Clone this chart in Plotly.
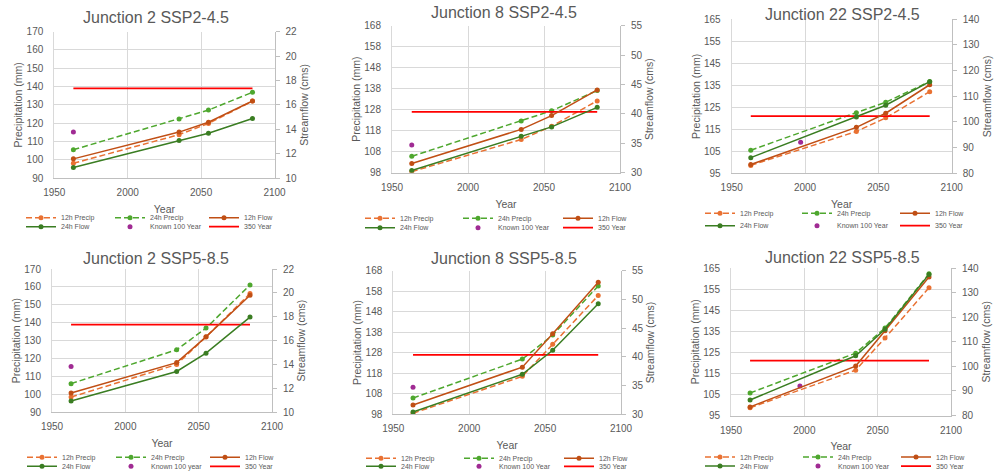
import plotly.graph_objects as go

# ---------------- data ----------------
years = [1963, 2035, 2055, 2085]
line_years = [1963, 2085]

titles = ["Junction 2 SSP2-4.5", "Junction 8 SSP2-4.5", "Junction 22 SSP2-4.5",
          "Junction 2 SSP5-8.5", "Junction 8 SSP5-8.5", "Junction 22 SSP5-8.5"]

# Junction 2 SSP2-4.5
j2_245_precip12 = [98.2, 113.8, 119.9, 132.1]
j2_245_precip24 = [105.6, 122.4, 127.2, 136.9]
j2_245_flow12 = [11.59, 13.78, 14.59, 16.32]
j2_245_flow24 = [10.89, 13.09, 13.68, 14.89]
# Junction 8 SSP2-4.5
j8_245_precip12 = [98.5, 113.8, 120.1, 132.2]
j8_245_precip24 = [105.8, 122.6, 127.5, 137.1]
j8_245_flow12 = [31.57, 37.36, 39.71, 44.07]
j8_245_flow24 = [30.39, 36.21, 37.79, 41.11]
# Junction 22 SSP2-4.5
j22_245_precip12 = [98.6, 114.0, 120.2, 132.1]
j22_245_precip24 = [105.5, 122.5, 127.3, 136.7]
j22_245_flow12 = [83.4, 97.9, 103.4, 114.5]
j22_245_flow24 = [86.1, 101.9, 106.5, 115.7]
# Junction 2 SSP5-8.5
j2_585_precip12 = [98.5, 116.7, 132.1, 156.3]
j2_585_precip24 = [106.0, 124.9, 137.0, 161.1]
j2_585_flow12 = [11.62, 14.16, 16.32, 19.80]
j2_585_flow24 = [10.95, 13.42, 14.95, 17.97]
# Junction 8 SSP5-8.5
j8_585_precip12 = [98.5, 116.5, 132.1, 155.9]
j8_585_precip24 = [105.9, 124.9, 136.6, 160.6]
j8_585_flow12 = [31.61, 38.21, 44.04, 53.0]
j8_585_flow24 = [30.39, 36.96, 41.14, 49.25]
# Junction 22 SSP5-8.5
j22_585_precip12 = [98.7, 116.5, 131.8, 155.6]
j22_585_precip24 = [105.7, 124.6, 136.5, 162.3]
j22_585_flow12 = [83.5, 100.1, 114.5, 136.3]
j22_585_flow24 = [86.3, 104.3, 115.1, 137.4]

known_years = [1963, 1963, 1997, 1963, 1963, 1997]
known_values = [115.2, 111.2, 109.1, 115.6, 111.2, 109.0]
known_labels = ["Known 100 Year", "Known 100 Year", "Known 100 Year",
                "Known 100 year", "Known 100 Year", "Known 100 Year"]
year350_values = [139, 127, 121, 139, 127, 121]

left_ranges = [[90, 170], [98, 168], [95, 165], [90, 170], [98, 168], [95, 165]]
right_ranges = [[10, 22], [30, 55], [80, 140], [10, 22], [30, 55], [80, 140]]
right_dticks = [2, 5, 10, 2, 5, 10]

precip12 = [j2_245_precip12, j8_245_precip12, j22_245_precip12,
            j2_585_precip12, j8_585_precip12, j22_585_precip12]
precip24 = [j2_245_precip24, j8_245_precip24, j22_245_precip24,
            j2_585_precip24, j8_585_precip24, j22_585_precip24]
flow12 = [j2_245_flow12, j8_245_flow12, j22_245_flow12,
          j2_585_flow12, j8_585_flow12, j22_585_flow12]
flow24 = [j2_245_flow24, j8_245_flow24, j22_245_flow24,
          j2_585_flow24, j8_585_flow24, j22_585_flow24]

# ---------------- layout geometry (pixels) ----------------
W, H = 1004, 473
plot_px = [  # left, right, top, bottom
    (54.3, 274.5, 31.6, 178.3),
    (392.0, 620.0, 25.7, 172.7),
    (731.7, 951.7, 19.3, 173.3),
    (52.0, 272.0, 269.0, 412.3),
    (393.3, 621.0, 270.7, 414.3),
    (731.0, 951.0, 268.0, 415.5),
]
title_px = [(156, 17), (504, 12), (842, 13), (156, 257), (504, 257), (842, 256)]
legend_cols_px = [(32, 121, 215), (371, 469, 569), (711, 808, 906),
                  (33, 122, 216), (372, 470, 570), (711, 809, 907)]
legend_rows_px = [(217.7, 226.7), (218.3, 227.7), (213.3, 225.7),
                  (457.3, 466.3), (458.3, 466.3), (457.0, 466.0)]

FONT = "Liberation Sans"
GRAY = "#595959"
GRID = "#D9D9D9"
AXLINE = "#BFBFBF"

C_P12 = "#E97132"
C_P24 = "#4EA72E"
C_F12 = "#C04F15"
C_F24 = "#3A7D22"
C_KNOWN = "#A02B93"
C_350 = "#FF0000"
DASH = "6px,3px"

fig = go.Figure()
layout = dict(width=W, height=H, margin=dict(l=0, r=0, t=0, b=0, autoexpand=False),
              paper_bgcolor="white", plot_bgcolor="white",
              font=dict(family=FONT, color=GRAY), showlegend=True,
              annotations=[])

legend_counter = [0]


def new_legend(xpx, ypx):
    legend_counter[0] += 1
    n = legend_counter[0]
    name = "legend" if n == 1 else f"legend{n}"
    layout[name] = dict(
        x=(xpx - 5 - 6) / W, y=1 - (ypx - 14.5) / H,
        xanchor="left", yanchor="top", orientation="v",
        bgcolor="rgba(0,0,0,0)", borderwidth=0,
        font=dict(size=7, color=GRAY, family=FONT),
        itemwidth=30,
    )
    return name


for i in range(6):
    k = i + 1
    kr = i + 7
    l, r, t, b = plot_px[i]
    xd = [l / W, r / W]
    yd = [1 - b / H, 1 - t / H]
    xa = "x" if k == 1 else f"x{k}"
    ya = "y" if k == 1 else f"y{k}"
    yr = f"y{kr}"

    layout[f"xaxis{k}" if k > 1 else "xaxis"] = dict(
        domain=xd, anchor=ya, range=[1950, 2100], tick0=1950, dtick=50,
        showgrid=True, gridcolor=GRID, gridwidth=1, zeroline=False,
        showline=True, linecolor=AXLINE, linewidth=1,
        ticks="", ticklabelstandoff=5,
        tickfont=dict(size=10, color=GRAY, family=FONT),
        title=dict(text="Year", font=dict(size=10.5, color=GRAY, family=FONT), standoff=8),
    )
    layout[f"yaxis{k}" if k > 1 else "yaxis"] = dict(
        domain=yd, anchor=xa, range=left_ranges[i], dtick=10, tick0=left_ranges[i][0],
        showgrid=True, gridcolor=GRID, gridwidth=1, zeroline=False,
        showline=True, linecolor=GRID, ticks="", ticklabelstandoff=8,
        tickfont=dict(size=10, color=GRAY, family=FONT),
        title=dict(text="Precipitation (mm)", font=dict(size=10.5, color=GRAY, family=FONT), standoff=1),
    )
    layout[f"yaxis{kr}"] = dict(
        domain=yd, anchor=xa, overlaying=ya, side="right",
        range=right_ranges[i], dtick=right_dticks[i], tick0=right_ranges[i][0],
        showgrid=False, zeroline=False, showline=True, linecolor=AXLINE, linewidth=1,
        ticks="outside", ticklen=4, tickcolor=AXLINE, ticklabelstandoff=4,
        tickfont=dict(size=10, color=GRAY, family=FONT),
        title=dict(text="Streamflow (cms)", font=dict(size=10.5, color=GRAY, family=FONT), standoff=4),
    )

    # title
    tx, ty = title_px[i]
    layout["annotations"].append(dict(
        text=titles[i], xref="paper", yref="paper", x=tx / W, y=1 - (ty + 1) / H,
        xanchor="center", yanchor="middle", showarrow=False,
        font=dict(size=16, color=GRAY, family=FONT)))

    cols = legend_cols_px[i]
    r1, r2 = legend_rows_px[i]

    mk = dict(size=5, symbol="circle")
    fig.add_trace(go.Scatter(x=years, y=precip12[i], name="12h Precip", mode="lines+markers",
                             line=dict(color=C_P12, width=1.5, dash=DASH),
                             marker=dict(color=C_P12, **mk), xaxis=xa, yaxis=ya,
                             legend=new_legend(cols[0], r1)))
    fig.add_trace(go.Scatter(x=years, y=precip24[i], name="24h Precip", mode="lines+markers",
                             line=dict(color=C_P24, width=1.5, dash=DASH),
                             marker=dict(color=C_P24, **mk), xaxis=xa, yaxis=ya,
                             legend=new_legend(cols[1], r1)))
    fig.add_trace(go.Scatter(x=years, y=flow12[i], name="12h Flow", mode="lines+markers",
                             line=dict(color=C_F12, width=1.5),
                             marker=dict(color=C_F12, **mk), xaxis=xa, yaxis=yr,
                             legend=new_legend(cols[2], r1)))
    fig.add_trace(go.Scatter(x=years, y=flow24[i], name="24h Flow", mode="lines+markers",
                             line=dict(color=C_F24, width=1.5),
                             marker=dict(color=C_F24, **mk), xaxis=xa, yaxis=yr,
                             legend=new_legend(cols[0], r2)))
    fig.add_trace(go.Scatter(x=[known_years[i]], y=[known_values[i]], name=known_labels[i],
                             mode="markers", marker=dict(color=C_KNOWN, **mk),
                             xaxis=xa, yaxis=ya, legend=new_legend(cols[1], r2)))
    fig.add_trace(go.Scatter(x=line_years, y=[year350_values[i]] * 2, name="350 Year",
                             mode="lines", line=dict(color=C_350, width=1.75),
                             xaxis=xa, yaxis=ya, legend=new_legend(cols[2], r2)))

fig.update_layout(**layout)
fig.write_html("out.html", config={"displayModeBar": False},
               post_script="document.body.style.margin='0';document.body.style.overflow='hidden';")
